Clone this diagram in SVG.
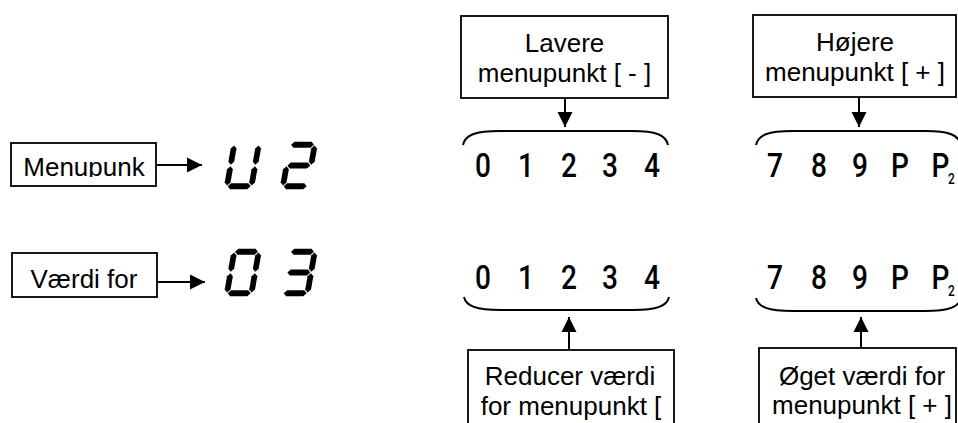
<svg xmlns="http://www.w3.org/2000/svg" xmlns:xlink="http://www.w3.org/1999/xlink" width="958" height="423" viewBox="0 0 958 423">
  <style>
    .box { fill: #fff; stroke: #000; stroke-width: 1.8; }
    .lbl { font-family: "Liberation Sans", Arial, sans-serif; font-size: 26px; text-anchor: middle; fill: #000; }
    .num { font-family: Roboto, "DejaVu Sans", sans-serif; font-size: 33px; font-weight: 500; text-anchor: middle; fill: #000; }
    .sub { font-family: Roboto, "DejaVu Sans", sans-serif; font-size: 14px; font-weight: 500; fill: #000; }
    .line { fill: none; stroke: #000; stroke-width: 2; }
    .brace { fill: none; stroke: #000; stroke-width: 2; }
    .seg { fill: #000; }
  </style>
  <defs>
    <marker id="arrow" viewBox="0 0 10 10" refX="10" refY="5" markerUnits="userSpaceOnUse" markerWidth="15" markerHeight="16" orient="auto">
      <path d="M0,0 L10,5 L0,10 Z" fill="#000"/>
    </marker>
    <!-- seven-segment pieces: horizontal and vertical bar -->
    <polygon id="sh" class="seg" points="0,0 2.9,-2.9 20,-2.9 22.9,0 20,2.9 2.9,2.9"/>
    <polygon id="sv" class="seg" points="0,0 2.9,2.9 2.9,16.25 0,19.15 -2.9,16.25 -2.9,2.9"/>
    <clipPath id="clipMenu">
      <rect x="11" y="143" width="145" height="34"/>
    </clipPath>
  </defs>

  <!-- left labels -->
  <g id="menupunk">
    <rect class="box" x="11" y="143" width="145" height="43"/>
    <text class="lbl" x="84" y="176" clip-path="url(#clipMenu)">Menupunk</text>
  </g>
  <g id="vaerdi-for">
    <rect class="box" x="12" y="253" width="145" height="44"/>
    <text class="lbl" x="84" y="288">Værdi for</text>
  </g>

  <!-- seven-segment display: U2 -->
  <g id="display-u2">
    <g transform="translate(232,142) skewX(-10)">
      <use xlink:href="#sh" x="3.55" y="44.25"/>
      <use xlink:href="#sv" x="2.75" y="3.55"/>
      <use xlink:href="#sv" x="2.75" y="24.3"/>
      <use xlink:href="#sv" x="27.25" y="3.55"/>
      <use xlink:href="#sv" x="27.25" y="24.3"/>
    </g>
    <g transform="translate(288,142) skewX(-10)">
      <use xlink:href="#sh" x="3.55" y="2.75"/>
      <use xlink:href="#sh" x="3.55" y="23.5"/>
      <use xlink:href="#sh" x="3.55" y="44.25"/>
      <use xlink:href="#sv" x="27.25" y="3.55"/>
      <use xlink:href="#sv" x="2.75" y="24.3"/>
    </g>
  </g>

  <!-- seven-segment display: 03 -->
  <g id="display-03">
    <g transform="translate(232,249) skewX(-10)">
      <use xlink:href="#sh" x="3.55" y="2.75"/>
      <use xlink:href="#sh" x="3.55" y="44.25"/>
      <use xlink:href="#sv" x="2.75" y="3.55"/>
      <use xlink:href="#sv" x="2.75" y="24.3"/>
      <use xlink:href="#sv" x="27.25" y="3.55"/>
      <use xlink:href="#sv" x="27.25" y="24.3"/>
    </g>
    <g transform="translate(288,249) skewX(-10)">
      <use xlink:href="#sh" x="3.55" y="2.75"/>
      <use xlink:href="#sh" x="3.55" y="23.5"/>
      <use xlink:href="#sh" x="3.55" y="44.25"/>
      <use xlink:href="#sv" x="27.25" y="3.55"/>
      <use xlink:href="#sv" x="27.25" y="24.3"/>
    </g>
  </g>

  <!-- top buttons -->
  <g id="lavere-menupunkt">
    <rect class="box" x="461" y="16" width="207" height="82"/>
    <text class="lbl" x="564.5" y="52">Lavere</text>
    <text class="lbl" x="564.5" y="82">menupunkt [ - ]</text>
  </g>
  <g id="hoejere-menupunkt">
    <rect class="box" x="753" y="15" width="203" height="82"/>
    <text class="lbl" x="855" y="51">Højere</text>
    <text class="lbl" x="855" y="81">menupunkt [ + ]</text>
  </g>

  <!-- menu number sequences (digits narrowed horizontally by 0.85) -->
  <g id="menu-low">
    <path class="brace" d="M463,145 C465,135 475,131 500,131 L632,131 C656,131 666,135 668,145"/>
    <text class="num" transform="scale(0.85,1)" x="568.2 618.8 669.4 717.6 767.1" y="177">01234</text>
  </g>
  <g id="menu-high">
    <path class="brace" d="M756,145 C758,135 768,131 793,131 L925,131 C949,131 959,135 961,145"/>
    <text class="num" transform="scale(0.85,1)" x="911.8 963.5 1011.8 1058.8 1106.5" y="177">789PP</text>
    <text class="sub" transform="scale(0.85,1)" x="1115.3" y="184">2</text>
  </g>

  <!-- value sequences -->
  <g id="value-low">
    <text class="num" transform="scale(0.85,1)" x="568.2 618.8 669.4 717.6 767.1" y="289">01234</text>
    <path class="brace" d="M464,297 C466,306 476,310 501,310 L633,310 C657,310 667,306 669,297"/>
  </g>
  <g id="value-high">
    <text class="num" transform="scale(0.85,1)" x="911.8 963.5 1011.8 1058.8 1106.5" y="289">789PP</text>
    <text class="sub" transform="scale(0.85,1)" x="1115.3" y="296">2</text>
    <path class="brace" d="M756,298 C758,307 768,311 793,311 L925,311 C949,311 959,307 961,298"/>
  </g>

  <!-- bottom buttons -->
  <g id="reducer-vaerdi">
    <rect class="box" x="468" y="350" width="206" height="100"/>
    <text class="lbl" x="570" y="385">Reducer værdi</text>
    <text class="lbl" x="571" y="415">for menupunkt [</text>
  </g>
  <g id="oeget-vaerdi">
    <rect class="box" x="759" y="348" width="197" height="100"/>
    <text class="lbl" x="862" y="385">Øget værdi for</text>
    <text class="lbl" x="862" y="414">menupunkt [ + ]</text>
  </g>

  <!-- connectors -->
  <g id="connectors">
    <line class="line" x1="156" y1="165" x2="202" y2="165" marker-end="url(#arrow)"/>
    <line class="line" x1="157" y1="282" x2="205" y2="282" marker-end="url(#arrow)"/>
    <line class="line" x1="565" y1="98" x2="565" y2="127" marker-end="url(#arrow)"/>
    <line class="line" x1="859" y1="97" x2="859" y2="127" marker-end="url(#arrow)"/>
    <line class="line" x1="569" y1="350" x2="569" y2="317" marker-end="url(#arrow)"/>
    <line class="line" x1="861" y1="348" x2="861" y2="317" marker-end="url(#arrow)"/>
  </g>
</svg>
